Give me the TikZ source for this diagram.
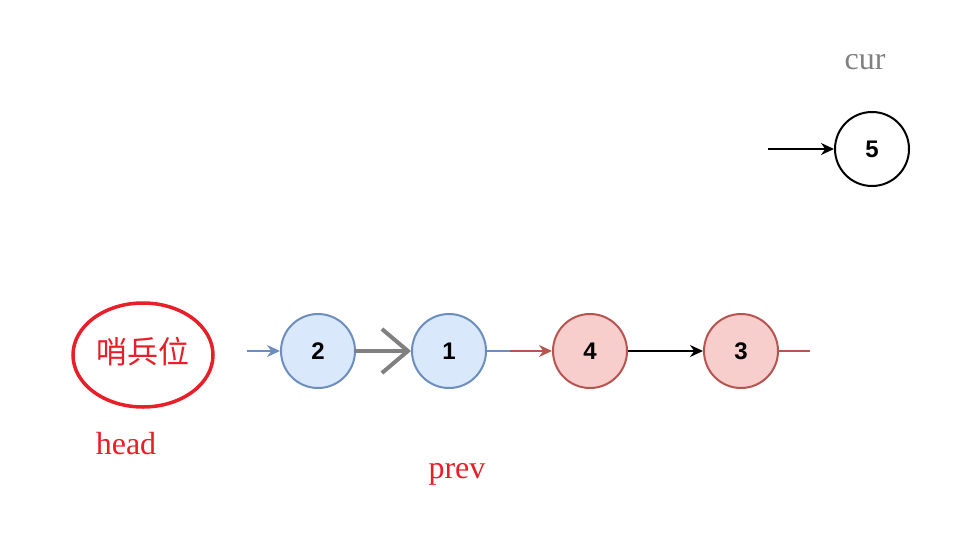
\documentclass[tikz,border=0pt]{standalone}
\usepackage{fontspec}
\setmainfont{Liberation Serif}
\newfontfamily\cjk{Noto Sans CJK SC}
\newfontfamily\numfont{Liberation Sans}
\usetikzlibrary{arrows.meta}
\definecolor{blueFill}{RGB}{218,232,252}
\definecolor{blueLine}{RGB}{108,142,191}
\definecolor{redFill}{RGB}{248,206,204}
\definecolor{redLine}{RGB}{184,84,80}
\definecolor{markRed}{RGB}{232,30,40}
\definecolor{curGray}{RGB}{128,128,128}
\tikzset{
  listnode/.style={circle,minimum size=74pt,inner sep=0pt,line width=2pt,font=\numfont\bfseries\fontsize{24}{24}\selectfont},
  bluenode/.style={listnode,draw=blueLine,fill=blueFill},
  rednode/.style={listnode,draw=redLine,fill=redFill},
  plainnode/.style={listnode,draw=black,fill=white},
  labeltext/.style={font=\fontsize{32}{34}\selectfont}
}
\begin{document}
\begin{tikzpicture}[x=1pt,y=1pt,yscale=-1,xscale=1]
\useasboundingbox (0,0) rectangle (955,535);

%Shape: Ellipse [sentinel]
\draw [color=markRed, line width=3.5pt] (143,355) ellipse (70 and 52);
% Text Node
\node (sentinel) at (143,352) [text=markRed,font=\cjk\fontsize{31}{33}\selectfont] {哨兵位};

%Shape: Circle
\node (n2) at (318,351) [bluenode] {2};
%Shape: Circle
\node (n1) at (449,351) [bluenode] {1};
%Shape: Circle
\node (n4) at (590,351) [rednode] {4};
%Shape: Circle
\node (n3) at (741,351) [rednode] {3};
%Shape: Circle
\node (n5) at (872,149) [plainnode] {5};

\coordinate (inA) at (247,351);
\coordinate (split) at (510,351);
\coordinate (outC) at (810,351);
\coordinate (inCur) at (768,149);

%Straight Lines
\draw [color=blueLine, line width=2pt, -{Stealth[length=13pt,width=12pt]}] (inA) -- (n2);
\draw [color=curGray, line width=4pt, line cap=round, -{Straight Barb[length=26pt,width=44pt,line width=4pt]}] (n2.east) -- (n1.west);
\draw [color=blueLine, line width=2pt] (n1.east) -- (split);
\draw [color=redLine, line width=2pt, -{Stealth[length=13pt,width=12pt]}] (split) -- (n4);
\draw [color=black, line width=2pt, -{Stealth[length=13pt,width=12pt]}] (n4) -- (n3);
\draw [color=redLine, line width=2pt] (n3) -- (outC);
\draw [color=black, line width=2pt, -{Stealth[length=13pt,width=12pt]}] (inCur) -- (n5);

% Text Node
\node (cur) at (865,62) [labeltext,text=curGray] {cur};
% Text Node
\node (head) at (126,444) [labeltext,text=markRed] {head};
% Text Node
\node (prev) at (457,474) [labeltext,text=markRed] {prev};
\end{tikzpicture}
\end{document}
